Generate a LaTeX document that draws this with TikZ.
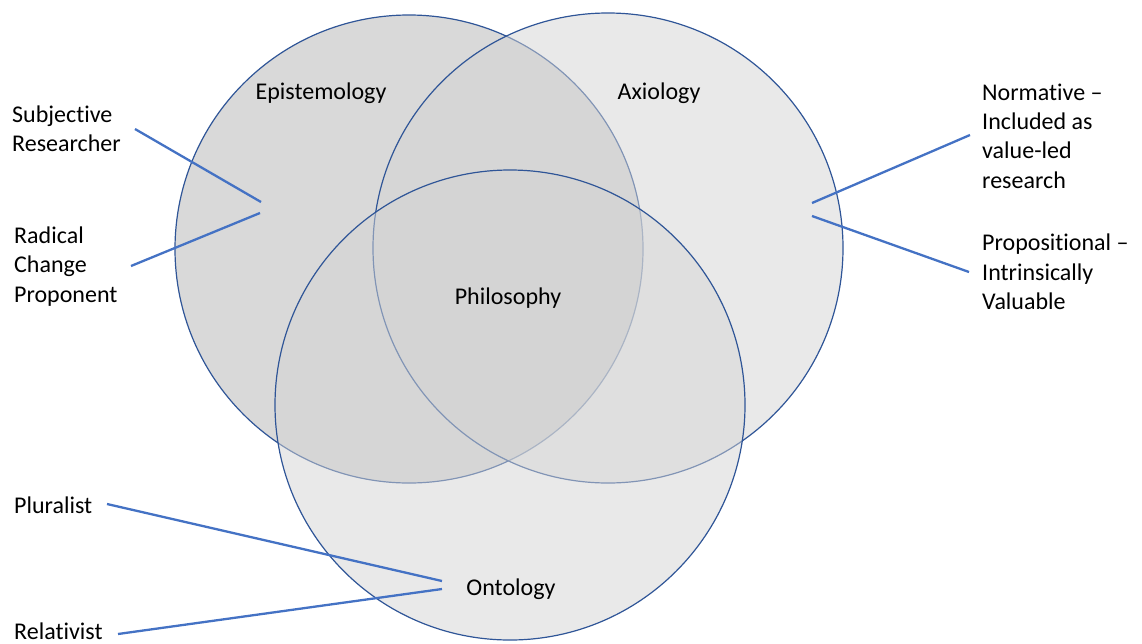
\documentclass[tikz,border=0pt]{standalone}
\usepackage{fontspec}
\setmainfont{Carlito}[Ligatures={NoCommon}]
\definecolor{ringblue}{HTML}{2F5597}
\definecolor{leadblue}{HTML}{4472C4}
\definecolor{epifill}{HTML}{D9D9D9}
\definecolor{setfill}{HTML}{D4D4D4}
\begin{document}
\begin{tikzpicture}[x=1pt,y=-1pt,
  ring/.style={draw=ringblue,line width=1.2pt},
  leader/.style={draw=leadblue,line width=2.3pt},
  lbl/.style={font=\fontsize{24}{29.3}\selectfont,inner sep=0pt,align=left,anchor=west},
  title/.style={font=\fontsize{24}{29.3}\selectfont,inner sep=0pt}]
\useasboundingbox (0,0) rectangle (1142,643);
% the three sets
\filldraw[ring,fill=epifill] (409,249) circle (234);
\filldraw[ring,fill=setfill,fill opacity=0.5] (608,248) circle (235);
\filldraw[ring,fill=setfill,fill opacity=0.5] (510,405) circle (235);
% set names
\node[title] (epi) at (321,93) {Epistemology};
\node[title] (axi) at (659,93) {Axiology};
\node[title] (phi) at (508,298) {Philosophy};
\node[title] (ont) at (511,589) {Ontology};
% outer labels
\node[lbl] (subj) at (12,128.5) {Subjective\\Researcher};
\node[lbl] (rad) at (14,266.5) {Radical\\Change\\Proponent};
\node[lbl] (norm) at (982,136) {Normative –\\Included as\\value-led\\research};
\node[lbl] (prop) at (982,272) {Propositional –\\Intrinsically\\Valuable};
\node[lbl] (plur) at (14,505) {Pluralist};
\node[lbl] (rel) at (14,631) {Relativist};
% leader end points
\coordinate (subjA) at (135,129);
\coordinate (subjB) at (261,202);
\coordinate (radA) at (131,266);
\coordinate (radB) at (260,213);
\coordinate (normA) at (812,203);
\coordinate (normB) at (970,135);
\coordinate (propA) at (812,216);
\coordinate (propB) at (969,272);
\coordinate (plurA) at (107,504);
\coordinate (plurB) at (442,581);
\coordinate (relA) at (118,634);
\coordinate (relB) at (442,589);
% leaders
\draw[leader] (subjA) -- (subjB);
\draw[leader] (radA) -- (radB);
\draw[leader] (normA) -- (normB);
\draw[leader] (propA) -- (propB);
\draw[leader] (plurA) -- (plurB);
\draw[leader] (relA) -- (relB);
\end{tikzpicture}
\end{document}
